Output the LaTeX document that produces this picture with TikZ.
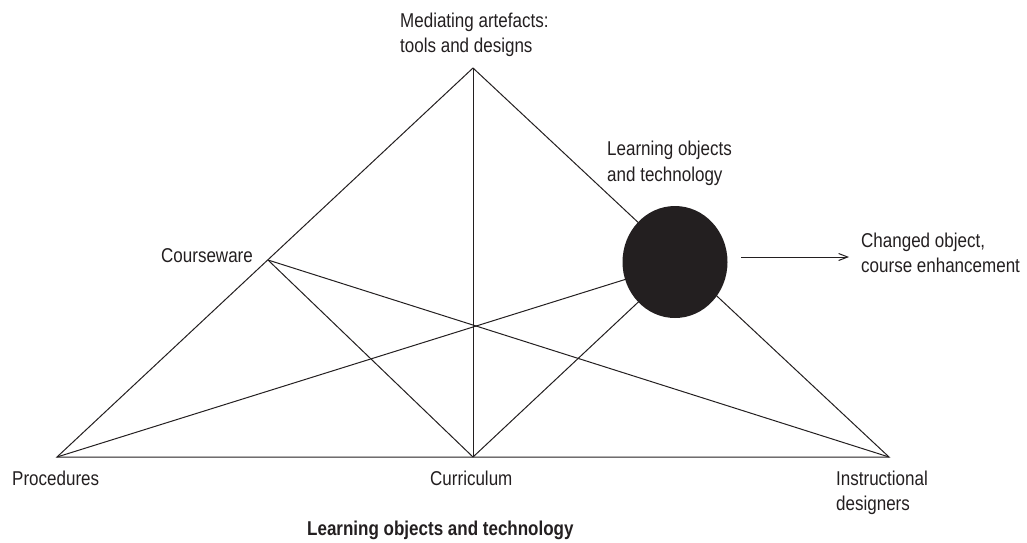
\documentclass[tikz,border=0pt]{standalone}
\usepackage{fontspec}
\setmainfont{Liberation Sans}[FakeStretch=0.85]
\usetikzlibrary{shapes.geometric,arrows.meta}
\definecolor{ink}{HTML}{231F20}
\begin{document}
\begin{tikzpicture}[x=1pt,y=-1pt,
  edge/.style={draw=ink,line width=1pt},
  lbl/.style={anchor=base west,inner sep=0pt,text=ink,font=\fontsize{20}{25}\selectfont},
  blbl/.style={anchor=base west,inner sep=0pt,text=ink,font=\fontsize{20}{25}\selectfont\bfseries}]
\useasboundingbox (0,0) rectangle (1027,542);
% vertices
\coordinate (A) at (473,68);
\coordinate (L) at (57,457);
\coordinate (Cu) at (473,457);
\coordinate (Rb) at (889,457);
\coordinate (Cw) at (268,260);
\coordinate (R) at (681,262);
\coordinate (a1) at (741,257);
\coordinate (a2) at (849,257);
% edges
\draw[edge] (A) -- (L) -- (Rb) -- cycle;
\draw[edge] (A) -- (Cu);
\draw[edge] (Cw) -- (Cu);
\draw[edge] (Cw) -- (Rb);
\draw[edge] (L) -- (R);
\draw[edge] (Cu) -- (R);
% filled ellipse
\node[ellipse,fill=ink,draw=none,minimum width=105pt,minimum height=112pt,inner sep=0pt] (E) at (675,262) {};
\draw[draw=ink,line width=1pt,-{Straight Barb[length=9pt,width=7pt]}] (a1) -- (a2);
% labels
\node[lbl] (t1) at (400,27) {Mediating artefacts:};
\node[lbl] (t2) at (400,52) {tools and designs};
\node[lbl] (t3) at (607,155) {Learning objects};
\node[lbl] (t4) at (607,181) {and technology};
\node[lbl] (t5) at (161,262) {Courseware};
\node[lbl] (t6) at (861,247) {Changed object,};
\node[lbl] (t7) at (861,272) {course enhancement};
\node[lbl] (t8) at (12,485) {Procedures};
\node[lbl] (t9) at (430,485) {Curriculum};
\node[lbl] (t10) at (836,485) {Instructional};
\node[lbl] (t11) at (836,510) {designers};
\node[blbl] (t12) at (307,535) {Learning objects and technology};
\end{tikzpicture}
\end{document}
